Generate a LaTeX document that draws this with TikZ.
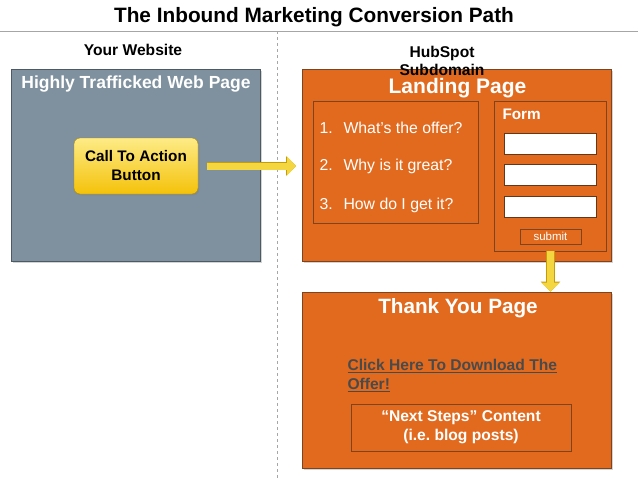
\documentclass[tikz,border=0pt]{standalone}
\usepackage{fontspec}
\setmainfont{Liberation Sans}
\usetikzlibrary{positioning, arrows.meta, shadows}

\definecolor{webgray}{HTML}{7F919F}
\definecolor{webedge}{HTML}{4E5A63}
\definecolor{hsorange}{HTML}{E16A1F}
\definecolor{hsedge}{HTML}{7A4520}
\definecolor{ctatop}{HTML}{FDEB86}
\definecolor{ctabot}{HTML}{F5C20A}
\definecolor{flowyellow}{HTML}{F4D640}
\definecolor{linkgray}{HTML}{4A4A4A}

\tikzset{
  % boxes
  pagebox/.style={draw=#1, line width=0.8pt, inner sep=0pt,
    drop shadow={opacity=0.35, shadow xshift=1.5pt, shadow yshift=-1.5pt}},
  innerbox/.style={draw=hsedge, line width=0.8pt, inner sep=0pt, fill=hsorange,
    drop shadow={opacity=0.3, shadow xshift=1.2pt, shadow yshift=-1.2pt}},
  field/.style={draw=hsedge!80!black, line width=1pt, fill=white, inner sep=0pt,
    minimum width=92pt, minimum height=21pt},
  heading/.style={font=\bfseries\fontsize{#1}{#1}\selectfont},
  medium/.style={font=\bfseries\fontsize{15.6}{19}\selectfont, align=center},
  flow/.style={-{Triangle[width=18pt,length=9pt]}, line width=7pt, draw=flowyellow,
    preaction={draw=ctabot!80!black, line width=8.6pt, -{Triangle[width=19pt,length=10pt]}}},
  x=1pt, y=-1pt
}

\begin{document}
\begin{tikzpicture}
      \useasboundingbox (0,0) rectangle (638,479);

      % header
      \node[heading=20.8] (title) at (314,17) {The Inbound Marketing Conversion Path};
      \draw[gray!70, line width=0.8pt] (0,31) -- (638,31);
      \draw[gray!70, dashed, line width=0.8pt] (277,31) -- (277,479);
      \node[medium] (yoursite) at (133,50) {Your Website};

      % your website
      \node[pagebox=webedge, fill=webgray, minimum width=249pt, minimum height=192pt] (webpage) at (135.5,165) {};
      \node[heading=17.5, text=white] (webtitle) at (136,84) {Highly Trafficked Web Page};
      \node[medium, draw=ctabot!70!black, rounded corners=6pt, top color=ctatop, bottom color=ctabot,
        minimum width=124pt, minimum height=56pt, font=\bfseries\fontsize{15.3}{19}\selectfont,
        drop shadow={opacity=0.35, shadow xshift=1.5pt, shadow yshift=-1.5pt}] (cta) at (136,166) {Call To Action\\Button};

      % landing page
      \node[pagebox=hsedge, fill=hsorange, minimum width=309pt, minimum height=192pt] (landing) at (457,165) {};
      \node[pagebox=hsedge, fill=hsorange, minimum width=309pt, minimum height=176pt] (thanks) at (457,380) {};
      \node[medium, font=\bfseries\fontsize{15.6}{18}\selectfont] (hubspot) at (442,61) {HubSpot\\Subdomain};
      \node[heading=21, text=white] (landtitle) at (457.5,88) {Landing Page};
      \node[innerbox, minimum width=165pt, minimum height=122pt] (offer) at (395.5,162) {};
      \tikzstyle{item}=[anchor=west, text=white, font=\fontsize{15.8}{19}\selectfont]
      \node[item] (q1) at (316,128) {\makebox[24pt][l]{1.}What's the offer?};
      \node[item] (q2) at (316,166) {\makebox[24pt][l]{2.}Why is it great?};
      \node[item] (q3) at (316,205) {\makebox[24pt][l]{3.}How do I get it?};

      \node[innerbox, minimum width=112pt, minimum height=150pt] (form) at (550,176) {};
      \node[anchor=west, text=white, heading=15.3] (formlabel) at (499,114) {Form};
      \node[field] (f1) at (550,143.5) {};
      \node[field] (f2) at (550,175) {};
      \node[field] (f3) at (550,207) {};
      \node[innerbox, minimum width=61pt, minimum height=15pt, text=white,
        font=\fontsize{11.5}{12}\selectfont] (submit) at (550.5,236.5) {submit};

      % thank you page
      \node[heading=20.7, text=white] (thanktitle) at (458,308) {Thank You Page};
      \node[medium, anchor=west, align=left, text=linkgray] (link) at (344,375.5)
        {\underline{Click Here To Download The}\\\underline{Offer!}};
      \node[innerbox, medium, text=white, minimum width=220pt, minimum height=47pt] (nextsteps) at (461,427.5)
        {``Next Steps'' Content\\(i.e.\ blog posts)};

      % flow arrows
      \draw[flow] ([xshift=9pt]cta.east) -- ([xshift=-6pt]landing.west |- cta.east);
      \draw[flow] (form.south -| submit.south) -- (thanks.north -| submit.south);

    \end{tikzpicture}
\end{document}
